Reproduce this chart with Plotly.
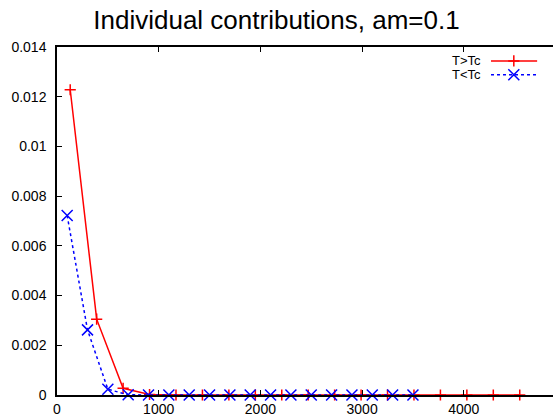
import plotly.graph_objects as go

# Contribution per mode, above and below Tc
x_above = [130, 390, 650, 910, 1170, 1430, 1690, 1950, 2210, 2470,
           2730, 2990, 3250, 3510, 3770, 4030, 4290, 4550]
y_above = [0.01228, 0.00305, 0.00027, 0.00002, 0.0, 0.0, 0.0, 0.0, 0.0, 0.0,
           0.0, 0.0, 0.0, 0.0, 0.0, 0.0, 0.0, 0.0]

x_below = [100, 300, 500, 700, 900, 1100, 1300, 1500, 1700, 1900,
           2100, 2300, 2500, 2700, 2900, 3100, 3300, 3500]
y_below = [0.00722, 0.00262, 0.00023, 0.00001, 0.0, 0.0, 0.0, 0.0, 0.0, 0.0,
           0.0, 0.0, 0.0, 0.0, 0.0, 0.0, 0.0, 0.0]

labels = ["T>Tc", "T<Tc"]
y_ticks = [0, 0.002, 0.004, 0.006, 0.008, 0.01, 0.012, 0.014]
y_ticktext = ["0", "0.002", "0.004", "0.006", "0.008", "0.01", "0.012", "0.014"]
x_ticks = [0, 1000, 2000, 3000, 4000]

RED = "#ff0000"
BLUE = "#0000ff"
FONT = "Liberation Sans, Arial, sans-serif"

PLUS = dict(symbol="cross-thin", size=8, line=dict(color=RED, width=1.5))
CROSS = dict(symbol="x-thin", size=11, line=dict(color=BLUE, width=1.5))

fig = go.Figure()

fig.add_trace(go.Scatter(
    x=x_above, y=y_above, mode="lines+markers", name=labels[0],
    line=dict(color=RED, width=1.5), marker=PLUS, cliponaxis=False,
))
fig.add_trace(go.Scatter(
    x=x_below, y=y_below, mode="lines+markers", name=labels[1],
    line=dict(color=BLUE, width=1.5, dash="dot"), marker=CROSS, cliponaxis=False,
))

# Key samples (text to the left, line + symbol to the right)
key_rows = [0.960, 0.920]
key_styles = [(RED, "solid", PLUS), (BLUE, "dot", CROSS)]
for (color, dash, mk), yy, lab in zip(key_styles, key_rows, labels):
    fig.add_trace(go.Scatter(
        x=[0.875, 0.968], y=[yy, yy], mode="lines", xaxis="x2", yaxis="y3",
        line=dict(color=color, width=1.5, dash=dash), showlegend=False,
        hoverinfo="skip",
    ))
    fig.add_trace(go.Scatter(
        x=[0.921], y=[yy], mode="markers", xaxis="x2", yaxis="y3",
        marker=mk, showlegend=False, hoverinfo="skip",
    ))
    fig.add_annotation(
        x=0.857, y=yy, xref="x2", yref="y3", text=lab, showarrow=False,
        xanchor="right", yanchor="middle", borderpad=0,
        font=dict(family=FONT, size=13, color="black"),
    )

fig.update_layout(
    width=553, height=418,
    margin=dict(l=57, r=0, t=47, b=23),
    paper_bgcolor="white", plot_bgcolor="white",
    showlegend=False,
    title=dict(text="Individual contributions, am=0.1", x=0.5, xref="container",
               xanchor="center", y=0.952, yanchor="middle",
               font=dict(family=FONT, size=26, color="black")),
    font=dict(family=FONT, size=14, color="black"),
    xaxis=dict(range=[0, 4877], tickvals=x_ticks, ticks="inside", ticklen=5,
               tickcolor="black", showline=True, linecolor="black", linewidth=1.5,
               mirror="ticks", showgrid=False, zeroline=False,
               tickfont=dict(family=FONT, size=14)),
    yaxis=dict(range=[0, 0.014], tickvals=y_ticks, ticktext=y_ticktext,
               ticks="inside", ticklen=5, tickcolor="black", showline=True,
               linecolor="black", linewidth=1.5, showgrid=False, zeroline=False,
               ticklabelstandoff=6, tickfont=dict(family=FONT, size=14)),
    yaxis2=dict(range=[0, 0.014], tickvals=y_ticks, overlaying="y", side="right",
                anchor="x", ticks="inside", ticklen=5, tickcolor="black",
                showticklabels=False, showline=False, showgrid=False, zeroline=False),
    xaxis2=dict(range=[0, 1], overlaying="x", visible=False, anchor="y3"),
    yaxis3=dict(range=[0, 1], overlaying="y", visible=False, anchor="x2"),
)

fig.write_html("out.html")
